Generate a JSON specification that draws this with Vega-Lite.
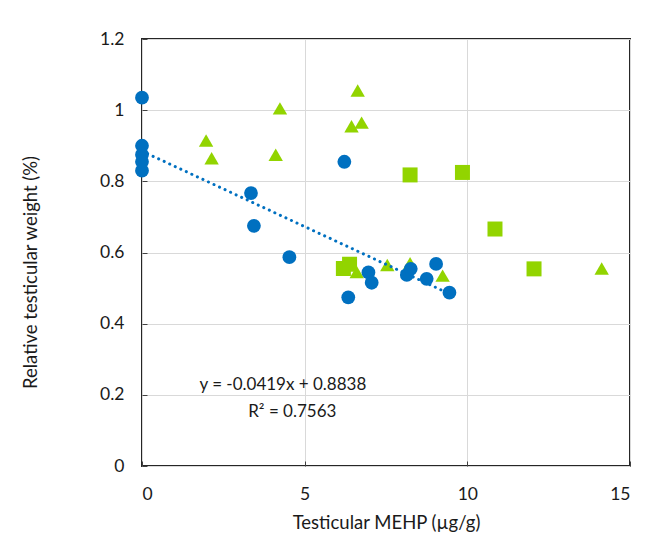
{
  "$schema": "https://vega.github.io/schema/vega-lite/v6.json",
  "width": 488,
  "height": 427,
  "autosize": "none",
  "padding": {"left": 142, "top": 39, "right": 18, "bottom": 82},
  "background": "white",
  "config": {
    "font": "Lato",
    "view": {"stroke": "#262626", "strokeWidth": 2},
    "axis": {
      "domain": false,
      "grid": true,
      "gridColor": "#D9D9D9",
      "gridWidth": 1,
      "ticks": true,
      "tickSize": -5,
      "tickColor": "#404040",
      "labelFont": "Lato",
      "labelFontSize": 17.5,
      "labelColor": "#1a1a1a",
      "titleFont": "Lato",
      "titleFontSize": 18.5,
      "titleFontWeight": "normal",
      "titleColor": "#1a1a1a"
    }
  },
  "datasets": {
    "pts": [
      {"x": 6.19, "y": 0.555, "g": "C"},
      {"x": 6.38, "y": 0.567, "g": "C"},
      {"x": 8.24, "y": 0.818, "g": "C"},
      {"x": 9.85, "y": 0.825, "g": "C"},
      {"x": 10.85, "y": 0.666, "g": "C"},
      {"x": 12.05, "y": 0.554, "g": "C"},
      {"x": 1.97, "y": 0.915, "g": "B"},
      {"x": 2.14, "y": 0.865, "g": "B"},
      {"x": 4.11, "y": 0.875, "g": "B"},
      {"x": 4.24, "y": 1.005, "g": "B"},
      {"x": 6.44, "y": 0.955, "g": "B"},
      {"x": 6.63, "y": 1.055, "g": "B"},
      {"x": 6.75, "y": 0.965, "g": "B"},
      {"x": 6.6, "y": 0.545, "g": "B"},
      {"x": 7.54, "y": 0.565, "g": "B"},
      {"x": 8.24, "y": 0.57, "g": "B"},
      {"x": 9.24, "y": 0.535, "g": "B"},
      {"x": 14.13, "y": 0.555, "g": "B"},
      {"x": 0, "y": 1.035, "g": "A"},
      {"x": 0, "y": 0.9, "g": "A"},
      {"x": 0, "y": 0.875, "g": "A"},
      {"x": 0, "y": 0.855, "g": "A"},
      {"x": 0, "y": 0.83, "g": "A"},
      {"x": 3.35, "y": 0.767, "g": "A"},
      {"x": 3.44, "y": 0.675, "g": "A"},
      {"x": 4.53, "y": 0.587, "g": "A"},
      {"x": 6.22, "y": 0.855, "g": "A"},
      {"x": 6.34, "y": 0.474, "g": "A"},
      {"x": 6.96, "y": 0.544, "g": "A"},
      {"x": 7.06, "y": 0.515, "g": "A"},
      {"x": 8.14, "y": 0.537, "g": "A"},
      {"x": 8.26, "y": 0.554, "g": "A"},
      {"x": 8.75, "y": 0.526, "g": "A"},
      {"x": 9.04, "y": 0.568, "g": "A"},
      {"x": 9.45, "y": 0.487, "g": "A"}
    ],
    "notes": [
      {"label": "y = -0.0419x + 0.8838", "x": 4.33, "y": 0.228},
      {"label": "R² = 0.7563", "x": 4.62, "y": 0.152}
    ]
  },
  "layer": [
    {
      "data": {"name": "pts"},
      "mark": {"type": "point", "filled": true, "opacity": 1},
      "encoding": {
        "x": {
          "field": "x", "type": "quantitative",
          "scale": {"domain": [0, 15], "nice": false},
          "axis": {"values": [0, 5, 10, 15], "title": "Testicular MEHP (µg/g)", "labelPadding": 24, "titleBaseline": "middle", "titleY": 56, "titleX": 244}
        },
        "y": {
          "field": "y", "type": "quantitative",
          "scale": {"domain": [0, 1.2], "nice": false},
          "axis": {"values": [0, 0.2, 0.4, 0.6, 0.8, 1, 1.2], "format": "~g", "title": "Relative testicular weight (%)", "labelPadding": 23, "titleBaseline": "middle", "titleX": -112, "titleY": 233}
        },
        "shape": {"field": "g", "type": "nominal", "scale": {"domain": ["A", "B", "C"], "range": ["circle", "triangle-up", "square"]}, "legend": null},
        "color": {"field": "g", "type": "nominal", "scale": {"domain": ["A", "B", "C"], "range": ["#0070C0", "#92D400", "#92D400"]}, "legend": null},
        "size": {"field": "g", "type": "nominal", "scale": {"domain": ["A", "B", "C"], "range": [190, 225, 210]}, "legend": null}
      }
    },
    {
      "data": {"name": "pts"},
      "transform": [
        {"filter": "datum.g === 'A'"},
        {"regression": "y", "on": "x"}
      ],
      "mark": {"type": "line", "color": "#0070C0", "strokeWidth": 3, "strokeDash": [0.1, 6], "strokeCap": "round"},
      "encoding": {
        "x": {"field": "x", "type": "quantitative"},
        "y": {"field": "y", "type": "quantitative"}
      }
    },
    {
      "data": {"name": "notes"},
      "mark": {"type": "text", "fontSize": 17, "font": "Lato", "color": "#1a1a1a", "align": "center", "baseline": "middle"},
      "encoding": {
        "x": {"field": "x", "type": "quantitative"},
        "y": {"field": "y", "type": "quantitative"},
        "text": {"field": "label"}
      }
    }
  ]
}
